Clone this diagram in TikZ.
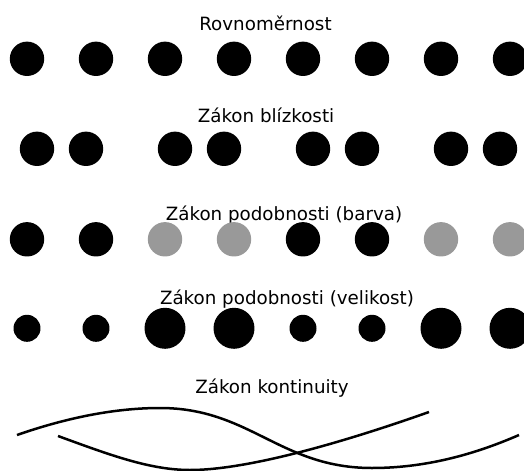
\documentclass[tikz,border=0pt]{standalone}
\usepackage{fontspec}
\setmainfont{DejaVu Sans}
\definecolor{dotgray}{HTML}{999999}
\usepackage{tikz}

\begin{document}
\begin{tikzpicture}[x=0.02cm, y=-0.02cm,
    title/.style={anchor=base, inner sep=0pt, font=\fontsize{10.4}{12}\selectfont},
    dot/.style={circle, fill=black, inner sep=0pt, minimum size=0.688cm},
    smalldot/.style={dot, minimum size=0.54cm},
    bigdot/.style={dot, minimum size=0.82cm},
    curve/.style={line width=0.05cm}]
      \useasboundingbox (0,0) rectangle (524,470);
      % Uniform
      \node[title] (t1) at (265.5,31) {Rovnoměrnost};
      \foreach \i in {0,...,7}
        \node[dot] (u\i) at (27+69*\i,58.8) {};
      % Proximity
      \node[title] (t2) at (266,122.7) {Zákon blízkosti};
      \foreach \i in {0,...,3} {
        \node[dot] (p\i a) at (37+138*\i,148.8) {};
        \node[dot] (p\i b) at (86+138*\i,148.8) {};
      }
      % Similarity, colour
      \node[title] (t3) at (284,220.7) {Zákon podobnosti (barva)};
      \foreach \i/\c in {0/black,1/black,2/dotgray,3/dotgray,
                         4/black,5/black,6/dotgray,7/dotgray}
        \node[dot, fill=\c] (c\i) at (27+69*\i,239.3) {};
      % Similarity, size
      \node[title] (t4) at (287,304) {Zákon podobnosti (velikost)};
      \foreach \i/\s in {0/smalldot,1/smalldot,2/bigdot,3/bigdot,
                         4/smalldot,5/smalldot,6/bigdot,7/bigdot}
        \node[\s] (s\i) at (27+69*\i,328.3) {};
      % Continuity
      \node[title] (t5) at (272,393) {Zákon kontinuity};
      \draw[curve] (17,435) .. controls (60,420) and (110,408) .. (160,408)
        .. controls (250,408) and (280,468) .. (372,468)
        .. controls (430,468) and (480,452) .. (519,435);
      \draw[curve] (58,436) .. controls (110,455) and (150,470) .. (190,470)
        .. controls (250,470) and (350,440) .. (429,412);
    \end{tikzpicture}
\end{document}
